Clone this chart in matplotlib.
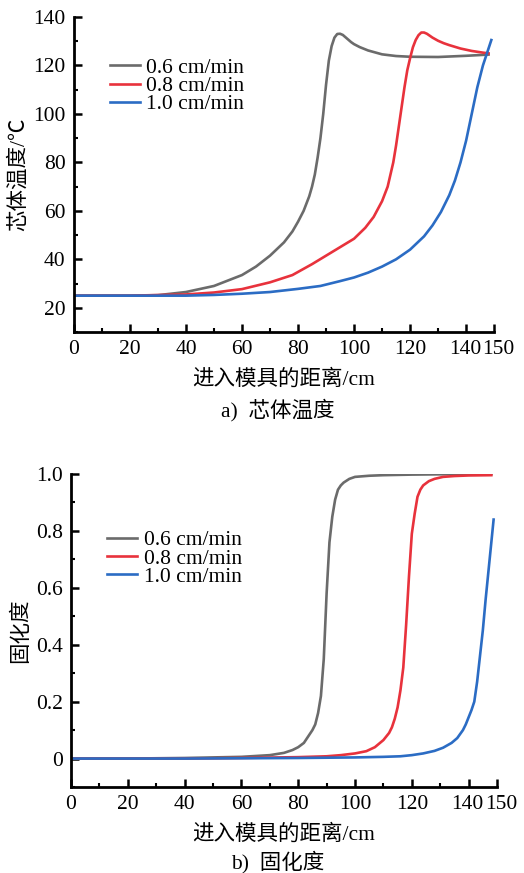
import matplotlib
matplotlib.use("Agg")
import matplotlib.pyplot as plt
import matplotlib.transforms as mtransforms
from matplotlib.ticker import MultipleLocator

plt.rcParams['font.family'] = ['Liberation Serif', 'Noto Sans CJK SC']
plt.rcParams['font.size'] = 15.5
plt.rcParams['axes.unicode_minus'] = False

labels = ['0.6 cm/min', '0.8 cm/min', '1.0 cm/min']
colors = ['#6b6b6b', '#e8323c', '#2b6cc4']

# 芯体温度 (a)
t06_x = [0, 20, 30, 40, 50, 60, 65, 70, 75, 78, 80, 82, 84, 85, 86, 87, 88, 89, 90,
         91, 92, 93, 94, 95, 96, 97, 98, 99, 100, 102, 105, 110, 115, 120, 130, 140, 148]
t06_y = [25, 25, 25.2, 26.5, 29, 33.5, 37, 41.5, 47, 51.5, 55.5, 60, 66, 70, 75, 82, 90, 100, 112,
         122, 128, 131.5, 133, 133.1, 132.6, 131.6, 130.6, 129.6, 128.8, 127.6, 126.2, 124.6, 123.9,
         123.6, 123.5, 124, 124.5]

t08_x = [0, 20, 40, 50, 60, 70, 78, 85, 90, 95, 100, 104, 107, 110, 112, 114, 115, 116,
         117, 118, 119, 120, 121, 122, 123, 124, 125, 126, 127, 128, 130, 132, 134, 138, 142, 146, 148]
t08_y = [25, 25, 25.5, 26.3, 27.7, 30.5, 33.5, 38, 41.5, 45, 48.5, 53, 57.5, 64, 70, 80, 87, 95,
         103, 111, 118, 123, 127.5, 130.5, 132.5, 133.6, 133.6, 133.1, 132.3, 131.5, 130.2, 129.2,
         128.4, 127, 126, 125.3, 125]

t10_x = [0, 20, 40, 50, 60, 70, 80, 88, 95, 100, 105, 110, 115, 120, 125, 128, 131, 134,
         136, 138, 140, 142, 144, 146, 148, 149]
t10_y = [25, 25, 25, 25.3, 25.8, 26.5, 27.8, 29, 31, 32.5, 34.5, 37, 40, 44, 49.5, 54, 59.5, 66.5,
         72.5, 80, 89, 100, 111, 120, 127, 130.5]

# 固化度 (b)
c06_x = [0, 20, 40, 60, 70, 75, 78, 80, 82, 84, 85, 86, 87, 88, 89, 90, 91, 92, 93, 94,
         95, 96, 98, 100, 105, 110, 120, 130, 148]
c06_y = [0, 0, 0.002, 0.006, 0.012, 0.02, 0.03, 0.04, 0.055, 0.085, 0.1, 0.12, 0.16, 0.22, 0.35,
         0.58, 0.76, 0.85, 0.91, 0.945, 0.96, 0.97, 0.983, 0.99, 0.994, 0.996, 0.998, 0.999, 1.0]

c08_x = [0, 40, 60, 80, 90, 95, 100, 104, 107, 110, 112, 113, 114, 115, 116, 117, 118, 119,
         120, 121, 122, 123, 124, 126, 128, 131, 135, 140, 148]
c08_y = [0, 0, 0.002, 0.005, 0.008, 0.012, 0.018, 0.026, 0.04, 0.065, 0.09, 0.11, 0.14, 0.18,
         0.24, 0.32, 0.47, 0.64, 0.79, 0.86, 0.92, 0.945, 0.96, 0.975, 0.983, 0.99, 0.993, 0.995, 0.996]

c10_x = [0, 40, 60, 80, 100, 110, 116, 120, 124, 128, 131, 134, 136, 138, 139, 140, 141, 142,
         143, 144, 145, 146, 147, 148, 148.8]
c10_y = [0, 0, 0.001, 0.002, 0.004, 0.006, 0.008, 0.012, 0.018, 0.027, 0.038, 0.055, 0.072, 0.1,
         0.12, 0.145, 0.17, 0.2, 0.27, 0.36, 0.45, 0.56, 0.66, 0.76, 0.84]

xticks = [0, 20, 40, 60, 80, 100, 120, 140, 150]


def style_axes(ax):
    for s in ['top', 'right']:
        ax.spines[s].set_visible(False)
    for s in ['left', 'bottom']:
        ax.spines[s].set_linewidth(2)
    ax.set_xlim(0, 150)
    ax.set_xticks(xticks)
    ax.set_xticklabels([str(t) for t in xticks])
    ax.xaxis.set_minor_locator(MultipleLocator(10))
    ax.tick_params(which='major', direction='in', length=6, width=1.8, pad=6)
    ax.tick_params(which='minor', direction='in', length=3, width=1.5)
    ax.set_xlabel('进入模具的距离/cm', labelpad=7)


def nudge_last(ax):
    # 150 标签稍微右移，140 稍微左移，避免两者挤在一起
    ticks = ax.xaxis.get_major_ticks()
    for tick, dx in [(ticks[-1], 4), (ticks[-2], -1)]:
        lab = tick.label1
        lab.set_transform(lab.get_transform() +
                          mtransforms.ScaledTranslation(dx / 100, 0, ax.figure.dpi_scale_trans))


fig = plt.figure(figsize=(5.24, 8.73), dpi=100)

ax1 = fig.add_axes([0.141, 0.6197, 0.802, 0.3608])
ax1.plot(t06_x, t06_y, color=colors[0], lw=1.9, label=labels[0])
ax1.plot(t08_x, t08_y, color=colors[1], lw=1.9, label=labels[1])
ax1.plot(t10_x, t10_y, color=colors[2], lw=1.9, label=labels[2])
style_axes(ax1)
ax1.set_ylim(10, 140)
ax1.set_yticks([20, 40, 60, 80, 100, 120, 140])
ax1.yaxis.set_minor_locator(MultipleLocator(10))
ax1.set_ylabel('芯体温度/℃', labelpad=3)
ax1.legend(loc='upper left', bbox_to_anchor=(0.06, 0.905), frameon=False,
           handlelength=1.4, handletextpad=0.3, labelspacing=-0.08, borderpad=0)
fig.text(0.53, 1 - 410 / 873, 'a)  芯体温度', ha='center', va='center')

ax2 = fig.add_axes([0.1355, 0.0985, 0.813, 0.3585])
ax2.plot(c06_x, c06_y, color=colors[0], lw=1.9, label=labels[0])
ax2.plot(c08_x, c08_y, color=colors[1], lw=1.9, label=labels[1])
ax2.plot(c10_x, c10_y, color=colors[2], lw=1.9, label=labels[2])
style_axes(ax2)
ax2.set_ylim(-0.1, 1.0)
ax2.set_yticks([0, 0.2, 0.4, 0.6, 0.8, 1.0])
ax2.set_yticklabels(['0', '0.2', '0.4', '0.6', '0.8', '1.0'])
ax2.yaxis.set_minor_locator(MultipleLocator(0.1))
ax2.set_ylabel('固化度', labelpad=3)
ax2.legend(loc='upper left', bbox_to_anchor=(0.06, 0.855), frameon=False,
           handlelength=1.4, handletextpad=0.3, labelspacing=-0.08, borderpad=0)
fig.text(0.53, 1 - 862 / 873, 'b)  固化度', ha='center', va='center')

nudge_last(ax1)
nudge_last(ax2)

fig.savefig('out.png', dpi=100)
